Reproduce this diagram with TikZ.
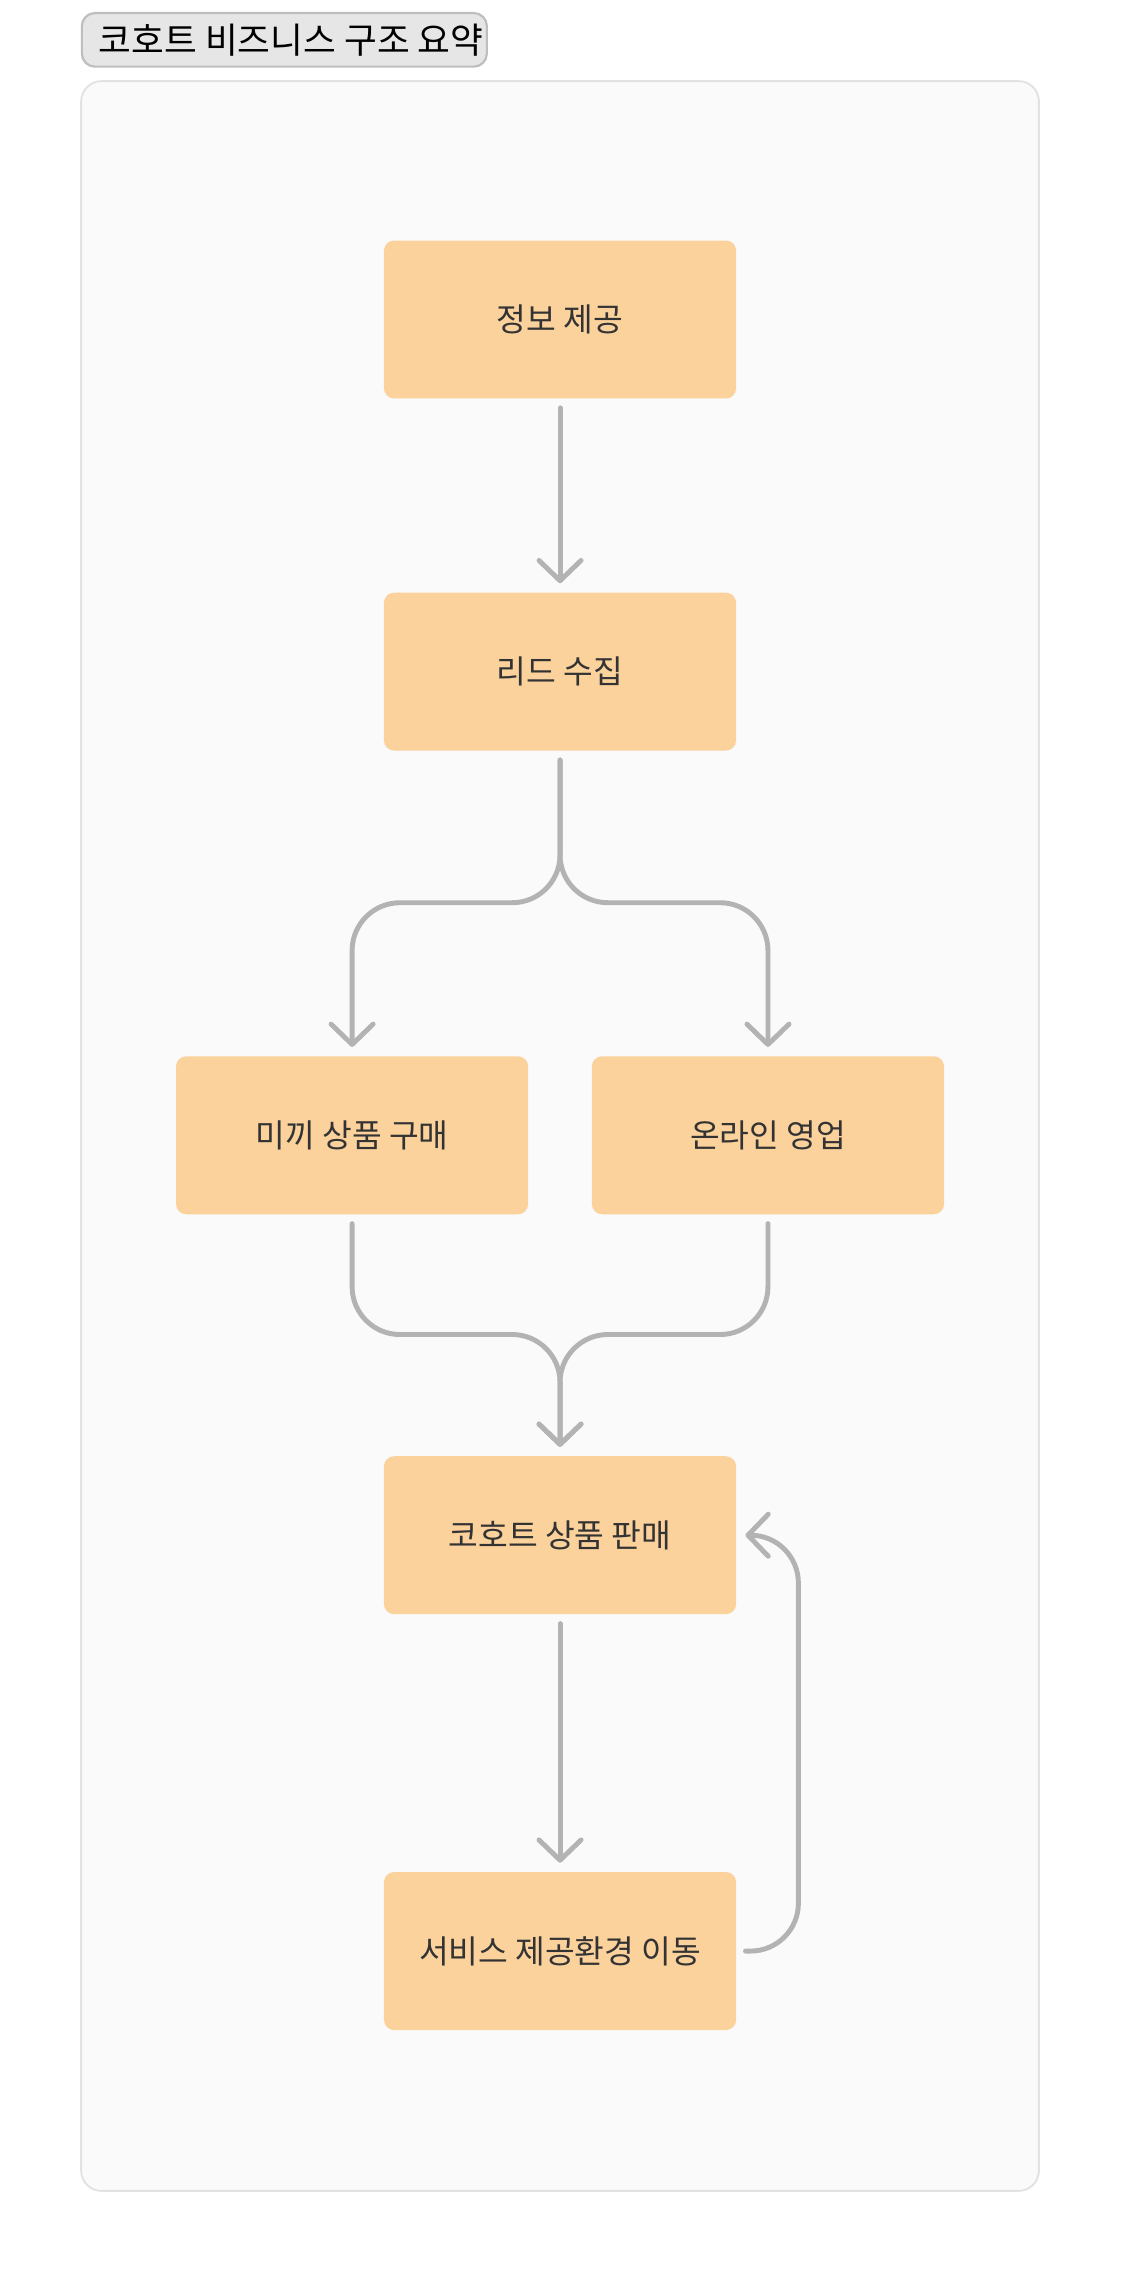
\documentclass[tikz,border=0pt]{standalone}
\usepackage{fontspec}
\setmainfont{Noto Sans CJK KR}
\usetikzlibrary{arrows.meta}
\definecolor{nodefill}{HTML}{FBD19C}
\definecolor{txt}{HTML}{333333}
\definecolor{edge}{HTML}{B3B3B3}
\definecolor{panel}{HTML}{FAFAFA}
\definecolor{panelline}{HTML}{E2E2E2}
\definecolor{titlefill}{HTML}{E6E6E6}
\definecolor{titleline}{HTML}{BEBEBE}
\tikzset{
  stepbox/.style={rectangle, rounded corners=7pt, fill=nodefill, draw=none,
    minimum width=243pt, minimum height=109pt, inner sep=0pt, outer sep=6.5pt,
    text=txt, font=\fontsize{22.3pt}{26pt}\selectfont},
  conn/.style={draw=edge, line width=3.4pt, line cap=round, line join=round,
    rounded corners=33pt,
    -{Straight Barb[length=14pt, width=29pt, line cap=round, line join=round]}}
}
\begin{document}
\begin{tikzpicture}[x=1pt, y=-1pt]
\useasboundingbox (0,0) rectangle (773,1568);
% panel
\draw[fill=panel, draw=panelline, line width=1.3pt, rounded corners=14pt] (56,56) rectangle (717,1512);
% title
\draw[fill=titlefill, draw=titleline, line width=1.5pt, rounded corners=9pt] (56.5,9) rectangle (336,46);
\node[anchor=west, inner sep=0pt, font=\fontsize{24.6pt}{29pt}\selectfont, text=black] (title) at (68,27.5) {코호트 비즈니스 구조 요약};
% nodes
\node[stepbox] (n1) at (386.5,220.5) {정보 제공};
\node[stepbox] (n2) at (386.5,463.5) {리드 수집};
\node[stepbox] (n3) at (243,783.5) {미끼 상품 구매};
\node[stepbox] (n4) at (530,783.5) {온라인 영업};
\node[stepbox] (n5) at (386.5,1059.5) {코호트 상품 판매};
\node[stepbox] (n6) at (386.5,1346.5) {서비스 제공환경 이동};
% connectors
\draw[conn] (n1.south) -- (n2.north);
\draw[conn] (n2.south) -- (n2.south |- 0,623) -- (n3.north |- 0,623) -- (n3.north);
\draw[conn] (n2.south) -- (n2.south |- 0,623) -- (n4.north |- 0,623) -- (n4.north);
\draw[conn] (n3.south) -- (n3.south |- 0,921) -- (n5.north |- 0,921) -- (n5.north);
\draw[conn] (n4.south) -- (n4.south |- 0,921) -- (n5.north |- 0,921) -- (n5.north);
\draw[conn] (n5.south) -- (n6.north);
\draw[conn] (n6.east) -- (551,1346.5) -- (551,1059.5) -- (n5.east);
\end{tikzpicture}
\end{document}
